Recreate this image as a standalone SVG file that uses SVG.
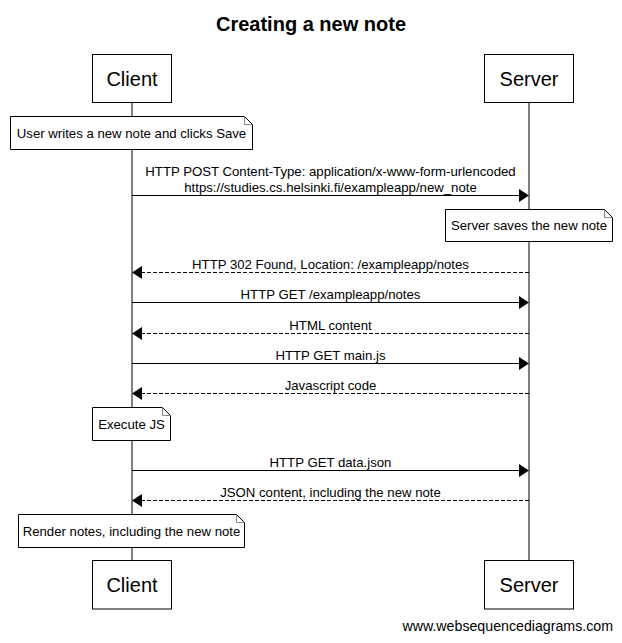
<svg xmlns="http://www.w3.org/2000/svg" width="622" height="643" viewBox="0 0 622 643">
<defs>
<style>
text{font-family:"Liberation Sans",Arial,sans-serif;fill:#000}
.title{font-size:20px;font-weight:bold;text-anchor:middle}
.actor{font-size:20px;text-anchor:middle}
.lbl{font-size:13.2px;text-anchor:middle}
.box{fill:#fff;stroke:#000;stroke-width:1}
.note{fill:#fff;stroke:#000;stroke-width:1}
.fold{fill:none;stroke:#888;stroke-width:1}
.life{stroke:#000;stroke-width:1}
.msg{stroke:#000;stroke-width:1;fill:none}
.ret{stroke:#000;stroke-width:1;fill:none;stroke-dasharray:4,2}
.head{fill:#000}
.wm{font-size:14.2px;text-anchor:end}
</style>
</defs>
<rect width="622" height="643" fill="#fff"/>
<text class="title" x="311" y="31">Creating a new note</text>

<g id="lifelines">
<line class="life" x1="132" y1="102.5" x2="132" y2="560.5"/>
<line class="life" x1="529" y1="102.5" x2="529" y2="560.5"/>
</g>

<g id="client-top"><rect class="box" x="92.5" y="54.5" width="79" height="48"/><text class="actor" x="132" y="85.5">Client</text></g>
<g id="server-top"><rect class="box" x="484.5" y="54.5" width="89" height="48"/><text class="actor" x="529" y="85.5">Server</text></g>
<g id="client-bottom"><rect class="box" x="92.5" y="560.5" width="79" height="48.5"/><text class="actor" x="132" y="592">Client</text></g>
<g id="server-bottom"><rect class="box" x="484.5" y="560.5" width="89" height="48.5"/><text class="actor" x="529" y="592">Server</text></g>

<g id="note-user">
<path class="note" d="M10.5,116.5 H244.5 L252.5,124.5 V149.5 H10.5 Z"/>
<path class="fold" d="M244.5,116.5 V124.5 H252.5"/>
<text class="lbl" x="131.5" y="137.5">User writes a new note and clicks Save</text>
</g>
<g id="note-server">
<path class="note" d="M445.5,209.5 H604.5 L612.5,217.5 V241.5 H445.5 Z"/>
<path class="fold" d="M604.5,209.5 V217.5 H612.5"/>
<text class="lbl" x="529" y="230">Server saves the new note</text>
</g>
<g id="note-exec">
<path class="note" d="M92.5,407.5 H162.5 L170.5,415.5 V440.5 H92.5 Z"/>
<path class="fold" d="M162.5,407.5 V415.5 H170.5"/>
<text class="lbl" x="131.5" y="428.5">Execute JS</text>
</g>
<g id="note-render">
<path class="note" d="M18.5,514.5 H236.5 L244.5,522.5 V547.5 H18.5 Z"/>
<path class="fold" d="M236.5,514.5 V522.5 H244.5"/>
<text class="lbl" x="131.5" y="535.5">Render notes, including the new note</text>
</g>

<g id="connectors">
<line class="msg" x1="132" y1="195.5" x2="520" y2="195.5"/>
<polygon class="head" points="529,195.5 519,189 519,202"/>
<text class="lbl" x="330.5" y="176">HTTP POST Content-Type: application/x-www-form-urlencoded</text>
<text class="lbl" x="330.5" y="192">https://studies.cs.helsinki.fi/exampleapp/new_note</text>

<line class="ret" x1="529" y1="272.5" x2="141" y2="272.5"/>
<polygon class="head" points="132,272.5 142,266 142,279"/>
<text class="lbl" x="330.5" y="269">HTTP 302 Found, Location: /exampleapp/notes</text>

<line class="msg" x1="132" y1="302.5" x2="520" y2="302.5"/>
<polygon class="head" points="529,302.5 519,296 519,309"/>
<text class="lbl" x="330.5" y="299">HTTP GET /exampleapp/notes</text>

<line class="ret" x1="529" y1="333.5" x2="141" y2="333.5"/>
<polygon class="head" points="132,333.5 142,327 142,340"/>
<text class="lbl" x="330.5" y="330">HTML content</text>

<line class="msg" x1="132" y1="363.5" x2="520" y2="363.5"/>
<polygon class="head" points="529,363.5 519,357 519,370"/>
<text class="lbl" x="330.5" y="360">HTTP GET main.js</text>

<line class="ret" x1="529" y1="393.5" x2="141" y2="393.5"/>
<polygon class="head" points="132,393.5 142,387 142,400"/>
<text class="lbl" x="330.5" y="390">Javascript code</text>

<line class="msg" x1="132" y1="470.5" x2="520" y2="470.5"/>
<polygon class="head" points="529,470.5 519,464 519,477"/>
<text class="lbl" x="330.5" y="467">HTTP GET data.json</text>

<line class="ret" x1="529" y1="500.5" x2="141" y2="500.5"/>
<polygon class="head" points="132,500.5 142,494 142,507"/>
<text class="lbl" x="330.5" y="497">JSON content, including the new note</text>
</g>

<text class="wm" x="613" y="631">www.websequencediagrams.com</text>
</svg>
